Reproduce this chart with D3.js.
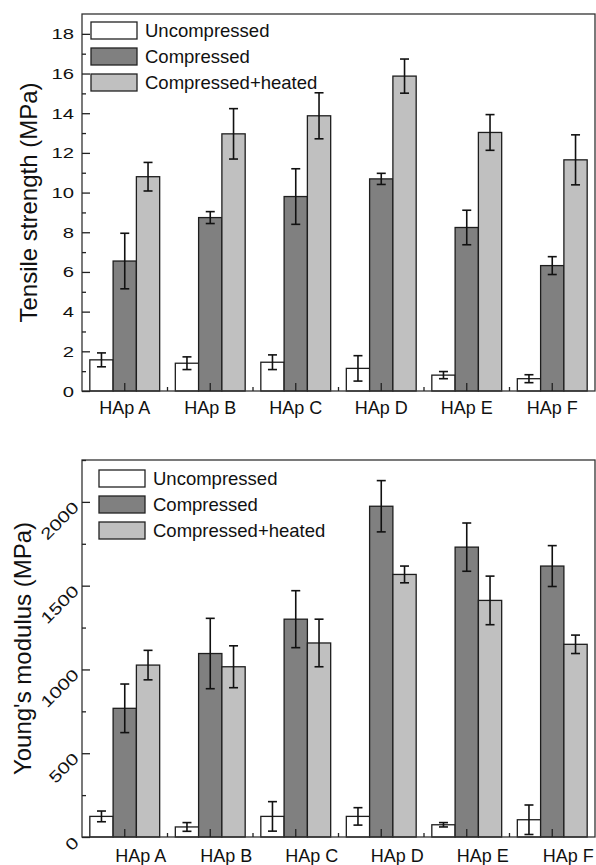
<!DOCTYPE html>
<html>
<head>
<meta charset="utf-8">
<script src="https://cdn.jsdelivr.net/npm/d3@7"></script>
<style>
  body { margin: 0; background: #fff; }
  text { font-family: "Liberation Sans", Arial, sans-serif; fill: #111; }
</style>
</head>
<body>
<script>
// Categorías y series
const grupos = ["HAp A", "HAp B", "HAp C", "HAp D", "HAp E", "HAp F"];
const series = ["Uncompressed", "Compressed", "Compressed+heated"];
const colores = ["#ffffff", "#808080", "#c0c0c0"];

// Resistencia a tracción (MPa)
const tensilSinComp = [1.57, 1.40, 1.45, 1.14, 0.80, 0.62];
const tensilSinCompErr = [0.35, 0.32, 0.37, 0.64, 0.18, 0.20];
const tensilComp = [6.55, 8.74, 9.80, 10.69, 8.24, 6.32];
const tensilCompErr = [1.40, 0.30, 1.40, 0.28, 0.87, 0.45];
const tensilCal = [10.80, 12.96, 13.87, 15.87, 13.03, 11.65];
const tensilCalErr = [0.72, 1.27, 1.16, 0.86, 0.90, 1.26];
const tensilTicks = [0, 2, 4, 6, 8, 10, 12, 14, 16, 18];

// Módulo de Young (MPa)
const youngSinComp = [123, 60, 123, 123, 73, 103];
const youngSinCompErr = [32, 26, 88, 52, 13, 88];
const youngComp = [768, 1095, 1300, 1974, 1730, 1617];
const youngCompErr = [145, 210, 170, 153, 144, 122];
const youngCal = [1026, 1016, 1158, 1567, 1412, 1150];
const youngCalErr = [88, 125, 142, 50, 145, 55];
const youngTicks = [0, 500, 1000, 1500, 2000];

const width = 596;
const height = 865;

const svg = d3.select("body")
    .append("svg")
    .attr("width", width)
    .attr("height", height);

function panel(cfg) {
    const g = svg.append("g");

    const x = d3.scaleBand().domain(grupos).range([82, 595]);
    const xs = d3.scaleBand().domain(series).range([0, x.bandwidth()]).paddingOuter(0.336);
    const y = d3.scaleLinear().domain(cfg.domain).range([cfg.bottom, cfg.top]);

    // tabla de barras
    const filas = [];
    grupos.forEach((gr, i) => {
        cfg.valores.forEach((v, j) => {
            filas.push({ grupo: gr, serie: series[j], valor: v[i], err: cfg.errores[j][i], j: j });
        });
    });

    g.selectAll("rect.bar")
        .data(filas)
        .enter()
        .append("rect")
        .attr("class", "bar")
        .attr("x", d => x(d.grupo) + xs(d.serie))
        .attr("y", d => y(d.valor))
        .attr("width", xs.bandwidth())
        .attr("height", d => y(0) - y(d.valor))
        .attr("fill", d => colores[d.j])
        .attr("stroke", "#1e1e1e")
        .attr("stroke-width", 1.3);

    // barras de error
    const eb = g.selectAll("g.err")
        .data(filas)
        .enter()
        .append("g")
        .attr("class", "err")
        .attr("stroke", "#111")
        .attr("stroke-width", 1.6);
    const cx = d => x(d.grupo) + xs(d.serie) + xs.bandwidth() / 2;
    eb.append("line")
        .attr("x1", cx).attr("x2", cx)
        .attr("y1", d => y(d.valor + d.err))
        .attr("y2", d => y(d.valor - d.err));
    eb.append("line")
        .attr("x1", d => cx(d) - 4.5).attr("x2", d => cx(d) + 4.5)
        .attr("y1", d => y(d.valor + d.err)).attr("y2", d => y(d.valor + d.err));
    eb.append("line")
        .attr("x1", d => cx(d) - 4.5).attr("x2", d => cx(d) + 4.5)
        .attr("y1", d => y(d.valor - d.err)).attr("y2", d => y(d.valor - d.err));

    // marco
    g.append("rect")
        .attr("x", 82)
        .attr("y", cfg.top)
        .attr("width", 595 - 82)
        .attr("height", cfg.bottom - cfg.top)
        .attr("fill", "none")
        .attr("stroke", "#333")
        .attr("stroke-width", 1.3);

    // eje y: ticks menores hacia dentro
    const yMinor = g.append("g")
        .attr("transform", "translate(82,0)")
        .call(d3.axisRight(y).tickValues(cfg.minor).tickSize(4).tickFormat(""));
    yMinor.select(".domain").remove();

    const yAxis = g.append("g")
        .attr("transform", "translate(82,0)")
        .call(d3.axisRight(y).tickValues(cfg.ticks).tickSize(8).tickFormat(cfg.fmt));
    yAxis.select(".domain").remove();
    yAxis.selectAll("line").attr("stroke", "#222").attr("stroke-width", 1.3);
    yMinor.selectAll("line").attr("stroke", "#222").attr("stroke-width", 1.3);
    yAxis.selectAll("text")
        .attr("x", null)
        .attr("dy", null)
        .attr("text-anchor", "end")
        .attr("dominant-baseline", "central")
        .style("font-size", cfg.tickFont + "px")
        .attr("transform", cfg.tickTransform);

    // eje x
    const xAxis = g.append("g")
        .attr("transform", "translate(0," + cfg.bottom + ")")
        .call(d3.axisTop(x).tickSize(8).tickFormat(""));
    xAxis.select(".domain").remove();
    xAxis.selectAll("line").attr("stroke", "#222").attr("stroke-width", 1.3);

    g.selectAll("line.xminor")
        .data(grupos.slice(1))
        .enter()
        .append("line")
        .attr("class", "xminor")
        .attr("x1", d => x(d)).attr("x2", d => x(d))
        .attr("y1", cfg.bottom).attr("y2", cfg.bottom - 4)
        .attr("stroke", "#222").attr("stroke-width", 1.3);

    g.selectAll("text.xlab")
        .data(grupos)
        .enter()
        .append("text")
        .attr("class", "xlab")
        .attr("x", d => x(d) + x.bandwidth() / 2 + cfg.labShift)
        .attr("y", cfg.labY)
        .attr("text-anchor", "middle")
        .style("font-size", "18px")
        .text(d => d);

    // título eje y
    g.append("text")
        .attr("transform", "translate(" + cfg.titleX + "," + ((cfg.top + cfg.bottom) / 2) + ") rotate(-90)")
        .attr("text-anchor", "middle")
        .attr("dominant-baseline", "central")
        .style("font-size", "24px")
        .text(cfg.titulo);

    // leyenda
    const leyenda = g.append("g")
        .attr("id", "legend")
        .selectAll("g")
        .data(series)
        .enter()
        .append("g")
        .attr("transform", (d, i) => "translate(" + cfg.legX + "," + (cfg.legY + i * 26) + ")");
    leyenda.append("rect")
        .attr("width", 46)
        .attr("height", 17)
        .attr("fill", (d, i) => colores[i])
        .attr("stroke", "#222")
        .attr("stroke-width", 1.3);
    leyenda.append("text")
        .attr("x", 54)
        .attr("y", 15)
        .style("font-size", "18.5px")
        .text(d => d);
}

panel({
    domain: [0, 19], top: 14, bottom: 391,
    valores: [tensilSinComp, tensilComp, tensilCal],
    errores: [tensilSinCompErr, tensilCompErr, tensilCalErr],
    ticks: tensilTicks,
    minor: d3.range(1, 19, 2),
    fmt: d3.format("d"),
    tickFont: 15,
    tickTransform: "translate(-8,0) scale(1.35,1)",
    labShift: 0, labY: 414,
    titleX: 28, titulo: "Tensile strength (MPa)",
    legX: 91, legY: 22
});

panel({
    domain: [0, 2250], top: 460, bottom: 837,
    valores: [youngSinComp, youngComp, youngCal],
    errores: [youngSinCompErr, youngCompErr, youngCalErr],
    ticks: youngTicks,
    minor: [250, 750, 1250, 1750, 2250],
    fmt: d3.format("d"),
    tickFont: 16,
    tickTransform: "translate(-6,2) rotate(-45) scale(1.3,1)",
    labShift: 16, labY: 862,
    titleX: 22, titulo: "Young's modulus (MPa)",
    legX: 99, legY: 470
});
</script>
</body>
</html>
